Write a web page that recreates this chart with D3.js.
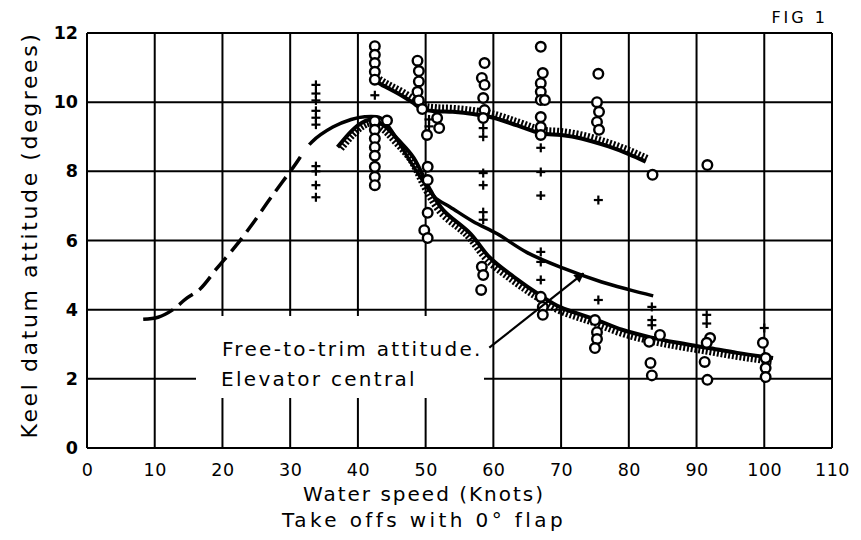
<!DOCTYPE html>
<html><head><meta charset="utf-8">
<script src="https://cdn.jsdelivr.net/npm/d3@7"></script>
<style>body{margin:0;background:#fff}</style>
</head><body>
<svg id="c" width="861" height="540"></svg>
<script>
// ---- data ----
const xTicks = [0,10,20,30,40,50,60,70,80,90,100,110];
const yTicks = [0,2,4,6,8,10,12];

// free-to-trim attitude curve (solid, dashed at low speed)
const curveAX = [8.3,10.5,12.7,14.5,16.7,19.2,22,24.5,27,30.5,33.2,36.3,39,41,43.3,44.5,46,48,50.2,51.5,53.6,57,60.5,65,70.3,76,80,83.6];
const curveAY = [3.72,3.78,4.0,4.3,4.6,5.2,5.85,6.5,7.2,8.13,8.85,9.28,9.5,9.58,9.55,9.3,8.85,8.2,7.55,7.22,6.97,6.55,6.2,5.65,5.2,4.8,4.58,4.4];
const dashFrom = 12.7, dashTo = 32.8;

// hatched curves
const hatchLowX = [37,40,42,44,46,48.2,50.7,52.6,56.6,59.5,63,66.9,69.8,75.3,79,83.2,87,91.6,96,101.3];
const hatchLowY = [8.7,9.33,9.5,9.3,8.9,8.4,7.45,6.88,6.2,5.5,4.95,4.42,4.08,3.7,3.42,3.2,3.05,2.9,2.75,2.6];
const hatchUpX = [42.3,44,46.2,48,49.5,51.5,54,57,60,63.5,67,70,73,77,80,82.5];
const hatchUpY = [10.65,10.45,10.22,10.0,9.8,9.74,9.72,9.66,9.55,9.33,9.1,9.05,8.95,8.72,8.5,8.28];

// observed points: circles
const circlesX = [42.5,42.5,42.5,42.5,42.5, 42.5,42.5,42.5,42.5,42.5,42.5,42.5,42.5, 44.3,
  48.8,49,49,48.8,49,49.5, 51.7,52,50.2, 50.3,50.3,50.3,49.8,50.3,
  58.7,58.3,58.7,58.5,58.7,58.5, 58.3,58.5,58.2,
  67,67.3,67,67,67,67.6,67,67,67, 67,67.3,67.3,
  75.5,75.3,75.6,75.3,75.6, 75,75.3,75.3,75,
  83.5,83,84.6,83.2,83.4,
  91.6,92,91.5,91.2,91.6,
  99.8,100.2,100.2,100.2];
const circlesY = [11.62,11.37,11.13,10.88,10.65, 9.45,9.2,8.95,8.7,8.45,8.13,7.84,7.6, 9.47,
  11.2,10.9,10.6,10.3,10.05,9.8, 9.54,9.25,9.05, 8.13,7.75,6.8,6.3,6.07,
  11.13,10.7,10.5,10.12,9.77,9.54, 5.24,5.0,4.57,
  11.6,10.84,10.55,10.3,10.06,10.06,9.57,9.28,9.05, 4.37,4.08,3.85,
  10.82,10.0,9.72,9.43,9.2, 3.7,3.35,3.15,2.89,
  7.9,3.07,3.27,2.46,2.1,
  8.18,3.18,3.04,2.49,1.97,
  3.04,2.6,2.31,2.05];

// observed points: crosses
const crossesX = [33.8,33.8,33.8,33.8,33.8,33.8,33.8,33.8,33.8,33.8,
  42.5, 50.5,50.5,
  58.5,58.5,58.5,58.5,58.5,58.5,
  67,67,67,67,67,67,
  75.5,75.5,
  83.4,83.4,83.4,
  91.5,91.5,
  100];
const crossesY = [10.5,10.25,10.05,9.75,9.55,9.35,8.15,8.0,7.6,7.25,
  10.2, 9.5,9.3,
  9.25,9.0,7.95,7.6,6.82,6.6,
  8.68,7.98,7.3,5.67,5.38,4.86,
  7.17,4.28,
  4.08,3.7,3.55,
  3.85,3.6,
  3.47];

// annotation
const noteLines = ["Free-to-trim attitude.", "Elevator central"];
const arrowFrom = [59.4, 2.9], arrowTo = [73.3, 5.05];

// ---- drawing ----
const svg = d3.select("#c");
const FONT = "'DejaVu Sans', sans-serif";
const x = d3.scaleLinear().domain([0,110]).range([87,832]);
const y = d3.scaleLinear().domain([0,12]).range([448,33]);

const g = svg.append("g");
// grid
g.selectAll(".vg").data(xTicks).join("line")
  .attr("x1", d=>x(d)).attr("x2", d=>x(d)).attr("y1", y(0)).attr("y2", y(12))
  .attr("stroke","#000").attr("stroke-width",2);
g.selectAll(".hg").data(yTicks).join("line")
  .attr("y1", d=>y(d)).attr("y2", d=>y(d)).attr("x1", x(0)).attr("x2", x(110))
  .attr("stroke","#000").attr("stroke-width",2);

// white box behind annotation
g.append("rect").attr("x",196).attr("y",316).attr("width",288).attr("height",82).attr("fill","#fff");

// axes labels
const xa = svg.append("g").attr("transform",`translate(0,${y(0)+13})`)
  .call(d3.axisBottom(x).tickValues(xTicks).tickSize(0).tickFormat(d3.format("d")));
xa.select(".domain").remove();
xa.selectAll("text").attr("font-family",FONT).attr("font-size",17.5).attr("letter-spacing",0.5).attr("fill","#000");
const ya = svg.append("g").attr("transform",`translate(${x(0)-6},0)`)
  .call(d3.axisLeft(y).tickValues(yTicks).tickSize(0).tickFormat(d3.format("d")));
ya.select(".domain").remove();
ya.selectAll("text").attr("font-family",FONT).attr("font-size",17.5).attr("font-weight","bold").attr("fill","#000");

// curves
const line = d3.line().x(d=>x(d[0])).y(d=>y(d[1])).curve(d3.curveCatmullRom.alpha(0.5));
const A = curveAX.map((v,i)=>[v,curveAY[i]]);
const pA = g.append("path").attr("d", line(A)).attr("fill","none").attr("stroke","#000")
  .attr("stroke-width",3.5).attr("stroke-linecap","round");
// dash pattern only between dashFrom and dashTo
(function(){
  const node = pA.node(), L = node.getTotalLength();
  const lenAt = xv => { let lo=0, hi=L; for(let k=0;k<40;k++){const m=(lo+hi)/2; if(node.getPointAtLength(m).x < x(xv)) lo=m; else hi=m;} return lo; };
  const l1 = lenAt(dashFrom), l2 = lenAt(dashTo);
  const arr = [l1];
  let pos = l1; const gap=8, dash=17;
  while (pos + gap + dash < l2) { arr.push(gap, dash); pos += gap + dash; }
  arr.push(l2 - pos, L - l2 + 5);
  pA.attr("stroke-dasharray", arr.join(" ")).attr("stroke-linecap","butt");
})();

function hatched(xs, ys, side){
  const pts = xs.map((v,i)=>[v,ys[i]]);
  const p = g.append("path").attr("d", line(pts)).attr("fill","none").attr("stroke","#000").attr("stroke-width",4);
  const node = p.node(), L = node.getTotalLength();
  const ticks = [];
  for (let l=2; l<L-1; l+=3.8){
    const a = node.getPointAtLength(l), b = node.getPointAtLength(Math.min(L,l+0.8));
    let tx=b.x-a.x, ty=b.y-a.y; const n=Math.hypot(tx,ty)||1; tx/=n; ty/=n;
    const nx = -ty*side, ny = tx*side;
    ticks.push([a.x, a.y, a.x+nx*7, a.y+ny*7]);
  }
  g.append("g").selectAll("line").data(ticks).join("line")
    .attr("x1",d=>d[0]).attr("y1",d=>d[1]).attr("x2",d=>d[2]).attr("y2",d=>d[3])
    .attr("stroke","#000").attr("stroke-width",2);
}
hatched(hatchLowX, hatchLowY, 1);
hatched(hatchUpX, hatchUpY, -1);

// points
g.append("g").selectAll("circle").data(circlesX.map((v,i)=>[v,circlesY[i]])).join("circle")
  .attr("cx",d=>x(d[0])).attr("cy",d=>y(d[1])).attr("r",4.8)
  .attr("fill","#fff").attr("stroke","#000").attr("stroke-width",2.4);
const cr = g.append("g").selectAll("g").data(crossesX.map((v,i)=>[v,crossesY[i]])).join("g")
  .attr("transform",d=>`translate(${x(d[0])},${y(d[1])})`);
cr.append("line").attr("x1",-4.5).attr("x2",4.5).attr("stroke","#000").attr("stroke-width",2.2);
cr.append("line").attr("y1",-4.5).attr("y2",4.5).attr("stroke","#000").attr("stroke-width",2.2);

// annotation text and arrow
svg.append("text").attr("x",222).attr("y",356).attr("font-family",FONT).attr("font-size",20)
  .attr("letter-spacing",2.3).text(noteLines[0]);
svg.append("text").attr("x",221).attr("y",386).attr("font-family",FONT).attr("font-size",20)
  .attr("letter-spacing",2.3).text(noteLines[1]);
svg.append("defs").append("marker").attr("id","ah").attr("viewBox","0 0 10 10").attr("refX",9).attr("refY",5)
  .attr("markerWidth",15).attr("markerHeight",10).attr("markerUnits","userSpaceOnUse").attr("orient","auto")
  .append("path").attr("d","M0,0 L10,5 L0,10 z").attr("fill","#000");
svg.append("line").attr("x1",x(arrowFrom[0])).attr("y1",y(arrowFrom[1]))
  .attr("x2",x(arrowTo[0])).attr("y2",y(arrowTo[1]))
  .attr("stroke","#000").attr("stroke-width",2.2).attr("marker-end","url(#ah)");

// titles
svg.append("text").attr("transform",`translate(37,235) rotate(-90)`).attr("text-anchor","middle")
  .attr("font-family",FONT).attr("font-size",22).attr("letter-spacing",2.6).text("Keel datum attitude (degrees)");
svg.append("text").attr("x",424).attr("y",501).attr("text-anchor","middle")
  .attr("font-family",FONT).attr("font-size",20).attr("letter-spacing",2).text("Water speed (Knots)");
svg.append("text").attr("x",424).attr("y",527).attr("text-anchor","middle")
  .attr("font-family",FONT).attr("font-size",20).attr("letter-spacing",3.4).text("Take offs with 0° flap");
svg.append("text").attr("x",828).attr("y",23).attr("text-anchor","end")
  .attr("font-family",FONT).attr("font-size",16).attr("letter-spacing",3).text("FIG 1");
</script>
</body></html>
